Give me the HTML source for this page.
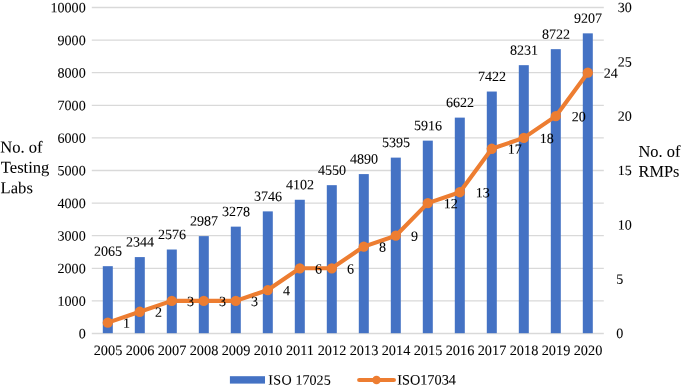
<!DOCTYPE html>
<html><head><meta charset="utf-8"><title>chart</title>
<style>html,body{margin:0;padding:0;background:#fff;}body{width:685px;height:389px;overflow:hidden;}svg{display:block;will-change:transform;opacity:0.999;}text{font-family:"Liberation Serif",serif;fill:#000;stroke:#000;stroke-width:0.06px;}</style>
</head><body>
<svg width="685" height="389" viewBox="0 0 685 389">
<rect x="0" y="0" width="685" height="389" fill="#ffffff"/>
<g stroke="#D9D9D9" stroke-width="1.3">
<line x1="91.8" y1="333.50" x2="603.8" y2="333.50"/>
<line x1="91.8" y1="300.90" x2="603.8" y2="300.90"/>
<line x1="91.8" y1="268.30" x2="603.8" y2="268.30"/>
<line x1="91.8" y1="235.70" x2="603.8" y2="235.70"/>
<line x1="91.8" y1="203.10" x2="603.8" y2="203.10"/>
<line x1="91.8" y1="170.50" x2="603.8" y2="170.50"/>
<line x1="91.8" y1="137.90" x2="603.8" y2="137.90"/>
<line x1="91.8" y1="105.30" x2="603.8" y2="105.30"/>
<line x1="91.8" y1="72.70" x2="603.8" y2="72.70"/>
<line x1="91.8" y1="40.10" x2="603.8" y2="40.10"/>
<line x1="91.8" y1="7.50" x2="603.8" y2="7.50"/>
</g>
<g font-size="14.1" text-anchor="end">
<text x="85.70" y="338.35" transform="rotate(0.05 85.70 338.35)">0</text>
<text x="85.70" y="305.75" transform="rotate(0.05 85.70 305.75)">1000</text>
<text x="85.70" y="273.15" transform="rotate(0.05 85.70 273.15)">2000</text>
<text x="85.70" y="240.55" transform="rotate(0.05 85.70 240.55)">3000</text>
<text x="85.70" y="207.95" transform="rotate(0.05 85.70 207.95)">4000</text>
<text x="85.70" y="175.35" transform="rotate(0.05 85.70 175.35)">5000</text>
<text x="85.70" y="142.75" transform="rotate(0.05 85.70 142.75)">6000</text>
<text x="85.70" y="110.15" transform="rotate(0.05 85.70 110.15)">7000</text>
<text x="85.70" y="77.55" transform="rotate(0.05 85.70 77.55)">8000</text>
<text x="85.70" y="44.95" transform="rotate(0.05 85.70 44.95)">9000</text>
<text x="85.70" y="12.35" transform="rotate(0.05 85.70 12.35)">10000</text>
</g>
<g font-size="14.1" text-anchor="start">
<text x="616.30" y="338.05" transform="rotate(0.05 616.30 338.05)">0</text>
<text x="616.30" y="283.72" transform="rotate(0.05 616.30 283.72)">5</text>
<text x="617.80" y="229.38" transform="rotate(0.05 617.80 229.38)">10</text>
<text x="617.80" y="175.05" transform="rotate(0.05 617.80 175.05)">15</text>
<text x="617.80" y="120.72" transform="rotate(0.05 617.80 120.72)">20</text>
<text x="617.80" y="66.38" transform="rotate(0.05 617.80 66.38)">25</text>
<text x="617.80" y="12.05" transform="rotate(0.05 617.80 12.05)">30</text>
</g>
<g fill="#4472C4">
<rect x="102.80" y="266.18" width="10.0" height="67.02"/>
<rect x="134.80" y="257.09" width="10.0" height="76.11"/>
<rect x="166.80" y="249.52" width="10.0" height="83.68"/>
<rect x="198.80" y="236.12" width="10.0" height="97.08"/>
<rect x="230.80" y="226.64" width="10.0" height="106.56"/>
<rect x="262.80" y="211.38" width="10.0" height="121.82"/>
<rect x="294.80" y="199.77" width="10.0" height="133.43"/>
<rect x="326.80" y="185.17" width="10.0" height="148.03"/>
<rect x="358.80" y="174.09" width="10.0" height="159.11"/>
<rect x="390.80" y="157.62" width="10.0" height="175.58"/>
<rect x="422.80" y="140.64" width="10.0" height="192.56"/>
<rect x="454.80" y="117.62" width="10.0" height="215.58"/>
<rect x="486.80" y="91.54" width="10.0" height="241.66"/>
<rect x="518.80" y="65.17" width="10.0" height="268.03"/>
<rect x="550.80" y="49.16" width="10.0" height="284.04"/>
<rect x="582.80" y="33.35" width="10.0" height="299.85"/>
</g>
<polyline fill="none" stroke="#ED7D31" stroke-width="4.1" stroke-linejoin="round" stroke-linecap="round" points="107.80,322.63 139.80,311.77 171.80,300.90 203.80,300.90 235.80,300.90 267.80,290.03 299.80,268.30 331.80,268.30 363.80,246.57 395.80,235.70 427.80,203.10 459.80,192.23 491.80,148.77 523.80,137.90 555.80,116.17 587.80,72.70"/>
<g fill="#ED7D31">
<circle cx="107.80" cy="322.63" r="5.15"/>
<circle cx="139.80" cy="311.77" r="5.15"/>
<circle cx="171.80" cy="300.90" r="5.15"/>
<circle cx="203.80" cy="300.90" r="5.15"/>
<circle cx="235.80" cy="300.90" r="5.15"/>
<circle cx="267.80" cy="290.03" r="5.15"/>
<circle cx="299.80" cy="268.30" r="5.15"/>
<circle cx="331.80" cy="268.30" r="5.15"/>
<circle cx="363.80" cy="246.57" r="5.15"/>
<circle cx="395.80" cy="235.70" r="5.15"/>
<circle cx="427.80" cy="203.10" r="5.15"/>
<circle cx="459.80" cy="192.23" r="5.15"/>
<circle cx="491.80" cy="148.77" r="5.15"/>
<circle cx="523.80" cy="137.90" r="5.15"/>
<circle cx="555.80" cy="116.17" r="5.15"/>
<circle cx="587.80" cy="72.70" r="5.15"/>
</g>
<g font-size="14.1" text-anchor="middle">
<text x="108.00" y="255.68" transform="rotate(0.05 108.00 255.68)">2065</text>
<text x="140.00" y="246.59" transform="rotate(0.05 140.00 246.59)">2344</text>
<text x="172.00" y="239.02" transform="rotate(0.05 172.00 239.02)">2576</text>
<text x="204.00" y="225.62" transform="rotate(0.05 204.00 225.62)">2987</text>
<text x="236.00" y="216.14" transform="rotate(0.05 236.00 216.14)">3278</text>
<text x="268.00" y="200.88" transform="rotate(0.05 268.00 200.88)">3746</text>
<text x="300.00" y="189.27" transform="rotate(0.05 300.00 189.27)">4102</text>
<text x="332.00" y="174.67" transform="rotate(0.05 332.00 174.67)">4550</text>
<text x="364.00" y="163.59" transform="rotate(0.05 364.00 163.59)">4890</text>
<text x="396.00" y="147.12" transform="rotate(0.05 396.00 147.12)">5395</text>
<text x="428.00" y="130.14" transform="rotate(0.05 428.00 130.14)">5916</text>
<text x="460.00" y="107.12" transform="rotate(0.05 460.00 107.12)">6622</text>
<text x="492.00" y="81.04" transform="rotate(0.05 492.00 81.04)">7422</text>
<text x="524.00" y="54.67" transform="rotate(0.05 524.00 54.67)">8231</text>
<text x="556.00" y="38.66" transform="rotate(0.05 556.00 38.66)">8722</text>
<text x="588.00" y="22.85" transform="rotate(0.05 588.00 22.85)">9207</text>
</g>
<g font-size="14.1" text-anchor="start">
<text x="123.05" y="327.73" transform="rotate(0.05 123.05 327.73)">1</text>
<text x="155.05" y="316.87" transform="rotate(0.05 155.05 316.87)">2</text>
<text x="187.05" y="306.00" transform="rotate(0.05 187.05 306.00)">3</text>
<text x="219.05" y="306.00" transform="rotate(0.05 219.05 306.00)">3</text>
<text x="251.05" y="306.00" transform="rotate(0.05 251.05 306.00)">3</text>
<text x="283.05" y="295.13" transform="rotate(0.05 283.05 295.13)">4</text>
<text x="315.05" y="273.40" transform="rotate(0.05 315.05 273.40)">6</text>
<text x="347.05" y="273.40" transform="rotate(0.05 347.05 273.40)">6</text>
<text x="379.05" y="251.67" transform="rotate(0.05 379.05 251.67)">8</text>
<text x="411.05" y="240.80" transform="rotate(0.05 411.05 240.80)">9</text>
<text x="443.75" y="208.20" transform="rotate(0.05 443.75 208.20)">12</text>
<text x="475.75" y="197.33" transform="rotate(0.05 475.75 197.33)">13</text>
<text x="507.75" y="153.87" transform="rotate(0.05 507.75 153.87)">17</text>
<text x="539.75" y="143.00" transform="rotate(0.05 539.75 143.00)">18</text>
<text x="571.75" y="121.27" transform="rotate(0.05 571.75 121.27)">20</text>
<text x="603.75" y="77.80" transform="rotate(0.05 603.75 77.80)">24</text>
</g>
<g font-size="14.3" text-anchor="middle">
<text x="108.00" y="355.00" transform="rotate(0.05 108.00 355.00)">2005</text>
<text x="140.00" y="355.00" transform="rotate(0.05 140.00 355.00)">2006</text>
<text x="172.00" y="355.00" transform="rotate(0.05 172.00 355.00)">2007</text>
<text x="204.00" y="355.00" transform="rotate(0.05 204.00 355.00)">2008</text>
<text x="236.00" y="355.00" transform="rotate(0.05 236.00 355.00)">2009</text>
<text x="268.00" y="355.00" transform="rotate(0.05 268.00 355.00)">2010</text>
<text x="300.00" y="355.00" transform="rotate(0.05 300.00 355.00)">2011</text>
<text x="332.00" y="355.00" transform="rotate(0.05 332.00 355.00)">2012</text>
<text x="364.00" y="355.00" transform="rotate(0.05 364.00 355.00)">2013</text>
<text x="396.00" y="355.00" transform="rotate(0.05 396.00 355.00)">2014</text>
<text x="428.00" y="355.00" transform="rotate(0.05 428.00 355.00)">2015</text>
<text x="460.00" y="355.00" transform="rotate(0.05 460.00 355.00)">2016</text>
<text x="492.00" y="355.00" transform="rotate(0.05 492.00 355.00)">2017</text>
<text x="524.00" y="355.00" transform="rotate(0.05 524.00 355.00)">2018</text>
<text x="556.00" y="355.00" transform="rotate(0.05 556.00 355.00)">2019</text>
<text x="588.00" y="355.00" transform="rotate(0.05 588.00 355.00)">2020</text>
</g>
<g font-size="16.6">
<text x="0.20" y="152.50" transform="rotate(0.05 0.20 152.50)">No. of</text>
<text x="0.80" y="172.80" transform="rotate(0.05 0.80 172.80)">Testing</text>
<text x="0.60" y="193.20" transform="rotate(0.05 0.60 193.20)">Labs</text>
<text x="638.50" y="156.70" transform="rotate(0.05 638.50 156.70)" font-size="16.4">No. of</text>
<text x="638.60" y="176.70" transform="rotate(0.05 638.60 176.70)" font-size="16.3">RMPs</text>
</g>
<rect x="229.9" y="376.2" width="35.1" height="7.4" fill="#4472C4"/>
<text x="268.30" y="384.60" transform="rotate(0.05 268.30 384.60)" font-size="14.1"><tspan letter-spacing="0.3">ISO</tspan> 17025</text>
<line x1="359.2" y1="380" x2="393.9" y2="380" stroke="#ED7D31" stroke-width="4.2" stroke-linecap="round"/>
<circle cx="376.5" cy="380" r="4.3" fill="#ED7D31"/>
<text x="397.20" y="384.50" transform="rotate(0.05 397.20 384.50)" font-size="14.3">ISO17034</text>
</svg>
</body></html>
